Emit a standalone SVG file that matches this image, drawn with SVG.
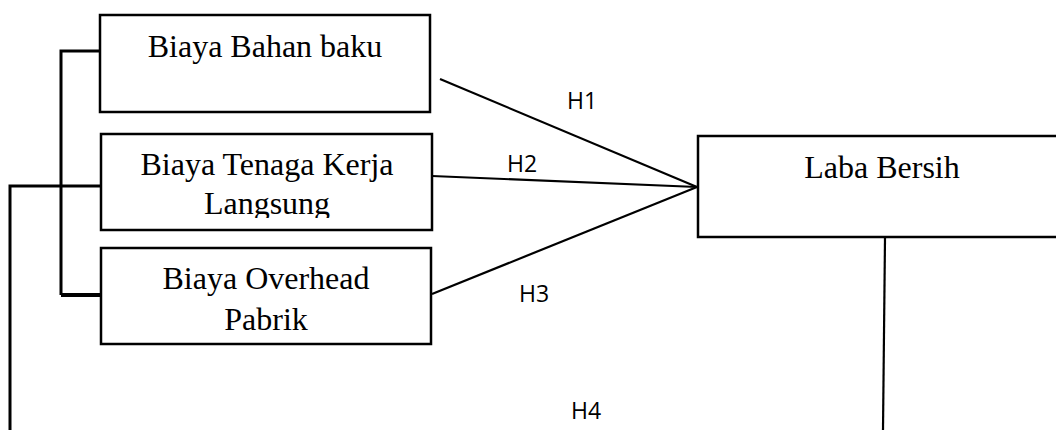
<svg xmlns="http://www.w3.org/2000/svg" width="1056" height="430" viewBox="0 0 1056 430">
  <style>
    .box { fill: #ffffff; stroke: #000000; stroke-width: 2.5; }
    .label { font-family: "Liberation Serif", "Times New Roman", serif; font-size: 32px; fill: #000000; text-anchor: middle; }
    .hyp { font-family: "Open Sans", "Liberation Sans", sans-serif; font-size: 23px; fill: #000000; }
    .link { fill: none; stroke: #000000; stroke-width: 2.2; }
    .bracket { fill: none; stroke: #000000; stroke-width: 3; }
  </style>
  <defs>
    <clipPath id="clip-tenaga">
      <rect x="100" y="130" width="335" height="88"/>
    </clipPath>
  </defs>
  <rect width="1056" height="430" fill="#ffffff"/>

  <g id="connectors">
    <!-- grouping bracket on the left of the three cost boxes -->
    <path class="bracket" d="M100,51 H61 V295"/>
    <path d="M61,295 H101" fill="none" stroke="#000" stroke-width="4"/>
    <!-- outer path from Biaya Tenaga Kerja down to the bottom edge -->
    <path class="bracket" d="M101,186 H10 V430"/>
    <!-- hypothesis lines into Laba Bersih -->
    <line class="link" x1="440" y1="79" x2="697" y2="187"/>
    <line class="link" x1="432" y1="176" x2="697" y2="187"/>
    <line class="link" x1="432" y1="294" x2="697" y2="187"/>
    <!-- line down from Laba Bersih -->
    <line class="link" x1="885" y1="238" x2="883" y2="430"/>
    <text class="hyp" x="567" y="109">H1</text>
    <text class="hyp" x="507" y="172">H2</text>
    <text class="hyp" x="519" y="302">H3</text>
    <text class="hyp" x="571" y="419">H4</text>
  </g>

  <g id="biaya-bahan-baku">
    <rect class="box" x="100" y="15" width="330" height="97"/>
    <text class="label" x="265" y="57">Biaya Bahan baku</text>
  </g>

  <g id="biaya-tenaga-kerja">
    <rect class="box" x="101" y="134" width="331" height="96"/>
    <g clip-path="url(#clip-tenaga)">
      <text class="label" x="267" y="175">Biaya Tenaga Kerja</text>
      <text class="label" x="267" y="214">Langsung</text>
    </g>
  </g>

  <g id="biaya-overhead-pabrik">
    <rect class="box" x="101" y="248" width="330" height="96"/>
    <text class="label" x="266" y="289">Biaya Overhead</text>
    <text class="label" x="266" y="330">Pabrik</text>
  </g>

  <g id="laba-bersih">
    <rect class="box" x="698" y="136" width="380" height="101"/>
    <text class="label" x="882" y="178">Laba Bersih</text>
  </g>
</svg>
